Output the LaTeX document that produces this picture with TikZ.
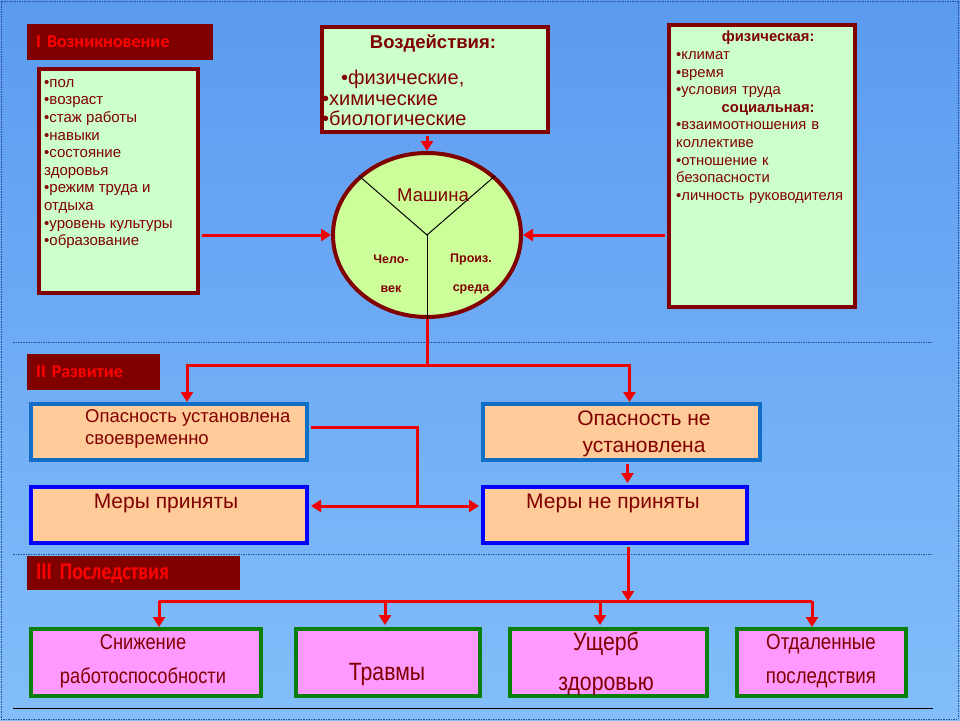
\documentclass[tikz,border=0pt]{standalone}
\usepackage{fontspec}
\setmainfont{Liberation Sans}
\newfontfamily\lblfont{Carlito}
\newfontfamily\narrowlbl[FakeStretch=0.82]{Carlito}
\newfontfamily\narrowfont[FakeStretch=0.85]{Liberation Sans}
\usetikzlibrary{shapes.geometric,arrows.meta}
\definecolor{maroon}{HTML}{800000}
\definecolor{lgreen}{HTML}{CCFFCC}
\definecolor{ellfill}{HTML}{CCFF99}
\definecolor{peach}{HTML}{FFCC99}
\definecolor{pinkbox}{HTML}{FF99FF}
\definecolor{steelb}{HTML}{0F6FC6}
\definecolor{pureb}{HTML}{0000FF}
\definecolor{gborder}{HTML}{0A7F0A}
\definecolor{bgtop}{HTML}{5C9AF0}
\definecolor{bgbot}{HTML}{82BEFA}
\definecolor{dotc}{HTML}{2A4F96}
\definecolor{arrred}{HTML}{F00000}
\begin{document}
\begin{tikzpicture}[x=1pt,y=-1pt,
  sect/.style={fill=maroon, draw=none, anchor=north west, text=red,
    font=\lblfont\bfseries\fontsize{18}{19}\selectfont, inner ysep=0pt, inner xsep=9pt,
    align=left},
  gbox/.style={draw=maroon, line width=4pt, fill=lgreen, anchor=north west, inner sep=0pt},
  obox/.style={line width=4pt, fill=peach, anchor=north west, inner sep=0pt},
  pbox/.style={draw=gborder, line width=4pt, fill=pinkbox, anchor=north west, inner sep=0pt},
  txt/.style={text=maroon, inner sep=0pt},
  arr/.style={draw=arrred, line width=3pt, -{Triangle[width=12pt,length=10pt]}},
  arrline/.style={draw=arrred, line width=3pt},
  sep/.style={draw=dotc, line width=0.8pt, dash pattern=on 1.5pt off 1pt}
]
\useasboundingbox (0,0) rectangle (960,720);
\shade[top color=bgtop, bottom color=bgbot] (0,0) rectangle (960,720);
\draw[sep] (1,1) rectangle (958,719);
\draw[sep] (13,342) -- (933,342);
\draw[sep] (13,554) -- (933,554);
\draw[black, line width=1pt] (13,708) -- (933,708);

% section labels
\node[sect, minimum height=36pt, text width=168pt] (s1) at (27,24) {I Возникновение};
\node[sect, minimum height=36pt, text width=115pt] (s2) at (27,354) {II Развитие};
\node[sect, minimum height=34pt, text width=195pt, font=\narrowlbl\bfseries\fontsize{24}{25}\selectfont] (s3) at (27,556) {III Последствия};

% top left box
\node[gbox, minimum width=159pt, minimum height=224pt] (left) at (37,67) {};
\node[txt, anchor=north west, align=left, font=\fontsize{15}{17.6}\selectfont] (lefttxt) at (44,79)
 {•пол\\•возраст\\•стаж работы\\•навыки\\•состояние\\здоровья\\•режим труда и\\отдыха\\•уровень культуры\\•образование};

% top middle box
\node[gbox, minimum width=226pt, minimum height=105pt] (vozd) at (320,25) {};
\node[txt, font=\bfseries\fontsize{18.5}{20}\selectfont] (vozdt) at (433,43) {Воздействия:};
\node[txt, anchor=north west, align=left, font=\fontsize{20}{20.5}\selectfont] (vozdl) at (322,70)
 {\hspace*{19pt}•физические,\\•химические\\•биологические};

% right box
\node[gbox, minimum width=186pt, minimum height=282pt] (right) at (667,23) {};
\node[txt, anchor=north west, align=left, text width=176pt, font=\fontsize{14.8}{17.6}\selectfont] (righttxt) at (676,31)
 {\makebox[184pt][c]{\textbf{физическая:}}\\•климат\\•время\\•условия труда\\\makebox[184pt][c]{\textbf{социальная:}}\\•взаимоотношения в\\коллективе\\•отношение к\\безопасности\\•личность руководителя};

% ellipse
\node[ellipse, draw=maroon, line width=4pt, fill=ellfill, minimum width=188pt, minimum height=164pt, inner sep=0pt] (mach) at (427,235) {};
\coordinate (yc) at (427,235);
\draw[black, line width=1pt] (mach.139) -- (yc) -- (mach.41);
\draw[black, line width=1pt] (yc) -- (mach.south);
\node[txt, font=\fontsize{18.5}{20}\selectfont] (mtxt) at (433,195) {Машина};
\node[txt, align=center, font=\bfseries\fontsize{12.5}{29}\selectfont] (chel) at (391,274) {Чело-\\век};
\node[txt, align=center, font=\bfseries\fontsize{12.5}{29}\selectfont] (proiz) at (471,274) {Произ.\\среда};

\draw[arr] (mach.north |- vozd.south) ++(0,2) -- (mach.north);
\draw[arr] ([xshift=2pt]left.east |- yc) -- (mach.west |- yc);
\draw[arr] ([xshift=-2pt]right.west |- yc) -- (mach.east |- yc);

% section II
\node[obox, draw=steelb, minimum width=276pt, minimum height=56pt] (op1) at (29,402) {};
\node[txt, anchor=north west, align=left, font=\fontsize{18.5}{22}\selectfont] (op1t) at (85,409) {Опасность установлена\\своевременно};
\node[obox, draw=steelb, minimum width=277pt, minimum height=56pt] (op2) at (481,402) {};
\node[txt, align=center, font=\fontsize{21}{27}\selectfont] (op2t) at (644,434) {Опасность не\\установлена};
\node[obox, draw=pureb, minimum width=276pt, minimum height=56pt] (mer1) at (29,485) {};
\node[txt, font=\fontsize{21}{22}\selectfont] (mer1t) at (166,503) {Меры приняты};
\node[obox, draw=pureb, minimum width=264pt, minimum height=56pt] (mer2) at (481,485) {};
\node[txt, font=\fontsize{21}{22}\selectfont] (mer2t) at (613,503) {Меры не приняты};

\draw[arrline] (mach.south) -- (mach.south |- 0,365) coordinate (b1);
\draw[arr] (b1) -| ([xshift=18pt]op1.north);
\draw[arr] (b1) -| ([xshift=8pt]op2.north);
\draw[arrline] ([yshift=5pt,xshift=2pt]op1.east) -- ++(106,0) coordinate (c1) -- (c1 |- 0,506) coordinate (c2);
\draw[arr] (c2) -- ([xshift=2pt]c2 -| mer1.east);
\draw[arr] (c2) -- ([xshift=-2pt]c2 -| mer2.west);
\draw[arr] ([xshift=6pt,yshift=-2pt]op2.south) -- ([xshift=6pt,yshift=2pt]op2.south |- mer2.north);

% section III
\node[pbox, minimum width=230pt, minimum height=67pt] (r1) at (29,627) {};
\node[pbox, minimum width=184pt, minimum height=67pt] (r2) at (294,627) {};
\node[pbox, minimum width=197pt, minimum height=67pt] (r3) at (508,627) {};
\node[pbox, minimum width=169pt, minimum height=67pt] (r4) at (735,627) {};
\node[txt, align=center, font=\narrowfont\fontsize{21.5}{34}\selectfont] (r1t) at (143,661) {Снижение\\работоспособности};
\node[txt, font=\narrowfont\fontsize{25}{26}\selectfont] (r2t) at (387,674) {Травмы};
\node[txt, align=center, font=\narrowfont\fontsize{25}{40}\selectfont] (r3t) at (606,664) {Ущерб\\здоровью};
\node[txt, align=center, font=\narrowfont\fontsize{22}{34}\selectfont] (r4t) at (821,661) {Отдаленные\\последствия};

\draw[arr] ([xshift=13pt,yshift=-2pt]mer2.south) -- ([xshift=13pt]mer2.south |- 0,601) coordinate (d0);
\coordinate (d1) at (159,601);
\coordinate (d4) at (812,601);
\draw[arrline] (d1) -- (d4);
\draw[arr] (d1) -- (d1 |- r1.north);
\draw[arr] (385,601) -- (385,625);
\draw[arr] (600,601) -- (600,625);
\draw[arr] (d4) -- (d4 |- r4.north);
\end{tikzpicture}
\end{document}
